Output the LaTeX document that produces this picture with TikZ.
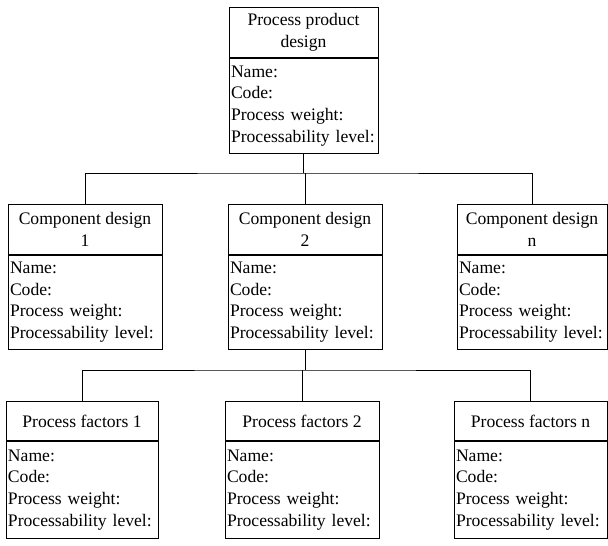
\documentclass[tikz,border=0pt]{standalone}
\usepackage{fontspec}
\setmainfont{Liberation Serif}
\begin{document}
\begin{tikzpicture}[x=1pt,y=-1pt,
  every node/.style={font=\fontsize{17.6}{21.7}\selectfont},
  hdr/.style={draw, line width=0.8pt, minimum height=50pt, inner sep=1pt, align=center, anchor=north},
  body/.style={draw, line width=0.8pt, inner xsep=2pt, inner ysep=0pt, align=left, anchor=north},
  link/.style={draw, line width=0.8pt}]
\useasboundingbox (0,0) rectangle (608,546);
% top
\node[hdr, minimum width=149pt] (toph) at (303.5,7) {Process product\\design};
\node[body, text width=145pt, minimum height=95pt] (topb) at (toph.south) {Name:\\Code:\\Process weight:\\Processability level:};
% components
\node[hdr, minimum width=154pt] (c1h) at (85,204) {Component design\\1};
\node[body, text width=150pt, minimum height=94pt] (c1b) at (c1h.south) {Name:\\Code:\\Process weight:\\Processability level:};
\node[hdr, minimum width=154pt] (c2h) at (305,204) {Component design\\2};
\node[body, text width=150pt, minimum height=94pt] (c2b) at (c2h.south) {Name:\\Code:\\Process weight:\\Processability level:};
\node[hdr, minimum width=150pt] (cnh) at (532,204) {Component design\\n};
\node[body, text width=146pt, minimum height=94pt] (cnb) at (cnh.south) {Name:\\Code:\\Process weight:\\Processability level:};
% factors
\node[hdr, minimum width=152pt, minimum height=39pt] (f1h) at (82,401) {Process factors 1};
\node[body, text width=148pt, minimum height=97pt] (f1b) at (f1h.south) {Name:\\Code:\\Process weight:\\Processability level:};
\node[hdr, minimum width=154pt, minimum height=39pt] (f2h) at (302,401) {Process factors 2};
\node[body, text width=150pt, minimum height=97pt] (f2b) at (f2h.south) {Name:\\Code:\\Process weight:\\Processability level:};
\node[hdr, minimum width=153pt, minimum height=39pt] (fnh) at (530.5,401) {Process factors n};
\node[body, text width=149pt, minimum height=97pt] (fnb) at (fnh.south) {Name:\\Code:\\Process weight:\\Processability level:};
% connectors
\coordinate (j1) at (307,173);
\coordinate (j2) at (304,370);
\draw[link] (topb.south) -- (topb.south |- j1);
\draw[link] (c1h.north) |- (j1) -| (cnh.north);
\draw[link] (c2h.north) -- (c2h.north |- j1);
\draw[link] (c2b.south) -- (c2b.south |- j2);
\draw[link] (f1h.north) |- (j2) -| (fnh.north);
\draw[link] (f2h.north) -- (f2h.north |- j2);
\end{tikzpicture}
\end{document}
